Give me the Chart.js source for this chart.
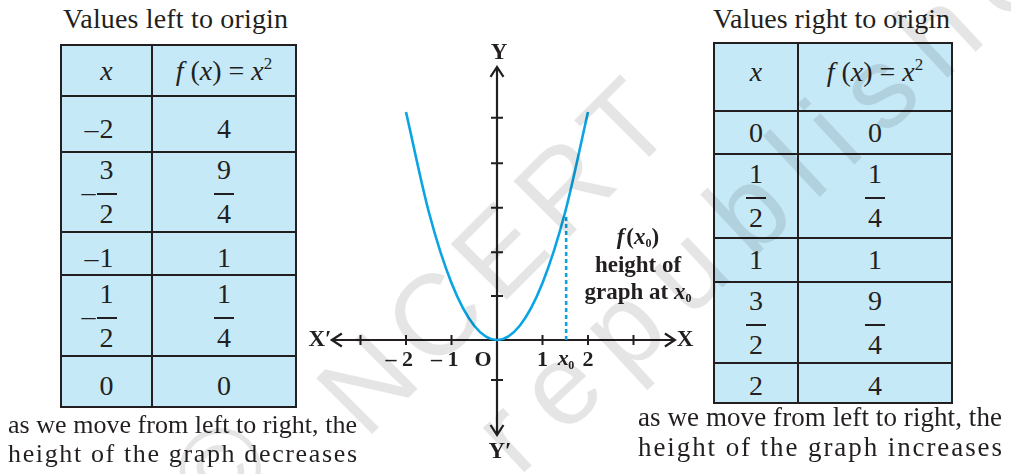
<!DOCTYPE html>
<html>
<head>
<meta charset="utf-8">
<script src="https://cdn.jsdelivr.net/npm/chart.js@4.4.1/dist/chart.umd.min.js"></script>
<style>
  body { margin: 0; width: 1011px; height: 474px; background: #fff; position: relative; overflow: hidden;
         font-family: "Liberation Serif", "DejaVu Serif", serif; color: #231f20; }
  .line { position: absolute; white-space: nowrap; }
  .tbl { position: absolute; background: #c6e9f8; }
  .rule { position: absolute; background: #231f20; }
  .cell { position: absolute; display: flex; align-items: center; justify-content: center; font-size: 28px; line-height: 28px; }
  .cell > span { white-space: nowrap; }
  .num { position: relative; display: inline-flex; align-items: center; }
  .neg { position: absolute; right: 100%; padding-right: 1px; }
  .frac { display: inline-flex; flex-direction: column; align-items: center; }
  .frac .bar { width: 20px; height: 2px; background: #231f20; margin: 9px 0 5px; }
  .frac span { line-height: 28px; height: 28px; }
  sup { font-size: 17px; vertical-align: 11px; line-height: 0; font-style: normal; }
  .note { position: absolute; left: 573px; top: 223px; width: 130px; text-align: center;
          font-weight: bold; font-size: 23px; line-height: 27.5px; }
  .note sub { font-size: 12px; vertical-align: -3px; line-height: 0; font-style: normal; }
  #chartBox { position: absolute; left: 300px; top: 30px; width: 400px; height: 444px; }
  .wm { position: absolute; white-space: nowrap; font-family: "Liberation Sans", sans-serif;
        color: rgba(0,0,0,0.1); line-height: 1; pointer-events: none; z-index: 10; }
</style>
</head>
<body>
<div id="chartBox"><canvas id="parabola" width="400" height="444"></canvas></div>
<div class="note"><i>f</i>&#8202;(<i>x</i><sub>0</sub>)<br>height of<br>graph at <i>x</i><sub>0</sub></div>
<script>
// 表格数据：原点左侧和右侧
const xLeft = [-2, -1.5, -1, -0.5, 0];
const fLeft = [4, 2.25, 1, 0.25, 0];
const xRight = [0, 0.5, 1, 1.5, 2];
const fRight = [0, 0.25, 1, 2.25, 4];

// 坐标轴刻度
const xTicks = [-3, -2, -1, 1, 2, 3];
const xTickLabels = ['– 2', '– 1', '1', '2'];
const xTickLabelValues = [-2, -1, 1, 2];
const yTicks = [-0.7, 0.77, 1.54, 2.32, 3.1, 3.9];

// x0 处的高度
const x0 = 1.52;
const fx0 = 2.2;

// 布局
const layout = {
	left:  { x: 61,  y: 45, w: 235, split: 91, rows: [0, 51, 107, 187, 230, 311, 362], dy: [0, 5, 0, 4, 0, 4] },
	right: { x: 714, y: 43, w: 238, split: 84, rows: [0, 68, 111, 195, 239, 320, 360], dy: [-5, 0, 0, 0, 0, 3] }
};

// 格式化数值（整数或分数）
function fmt(v) {
	const sign = v < 0 ? '<span class="neg">–</span>' : '';
	const a = Math.abs(v);
	if (Number.isInteger(a)) return '<span class="num">' + sign + a + '</span>';
	let den = 2;
	while (!Number.isInteger(a * den)) den *= 2;
	return '<span class="num">' + sign + '<span class="frac"><span>' + (a * den) + '</span><span class="bar"></span><span>' + den + '</span></span></span>';
}

// 生成表格
function buildTable(cfg, xs, fs) {
	const h = cfg.rows[cfg.rows.length - 1];
	const t = document.createElement('div');
	t.className = 'tbl';
	t.style.cssText = `left:${cfg.x}px;top:${cfg.y}px;width:${cfg.w}px;height:${h}px;`;
	const cells = [['<span><i>x</i></span>', '<span><i>f</i>&nbsp;(<i>x</i>) = <i>x</i><sup>2</sup></span>']];
	xs.forEach((x, i) => cells.push([fmt(x), fmt(fs[i])]));
	cells.forEach((row, r) => {
		const top = cfg.rows[r], hh = cfg.rows[r + 1] - top;
		row.forEach((html, c) => {
			const d = document.createElement('div');
			d.className = 'cell';
			const l = c === 0 ? 0 : cfg.split, w = c === 0 ? cfg.split : cfg.w - cfg.split;
			d.style.cssText = `left:${l}px;top:${top + cfg.dy[r]}px;width:${w}px;height:${hh}px;`;
			d.innerHTML = html;
			t.appendChild(d);
		});
	});
	// 表格线
	const lw = 2.6;
	cfg.rows.forEach(y => {
		const r = document.createElement('div');
		r.className = 'rule';
		r.style.cssText = `left:${-lw / 2}px;top:${y - lw / 2}px;width:${cfg.w + lw}px;height:${lw}px;`;
		t.appendChild(r);
	});
	[0, cfg.split, cfg.w].forEach(x => {
		const r = document.createElement('div');
		r.className = 'rule';
		r.style.cssText = `left:${x - lw / 2}px;top:${-lw / 2}px;width:${lw}px;height:${h + lw}px;`;
		t.appendChild(r);
	});
	document.body.appendChild(t);
}

// 文字行（按宽度调整字距）
function addLine(text, x, baseline, width, size) {
	const d = document.createElement('div');
	d.className = 'line';
	d.textContent = text;
	d.style.fontSize = size + 'px';
	d.style.lineHeight = size + 'px';
	d.style.left = x + 'px';
	d.style.top = (baseline - size * 0.8375) + 'px';
	document.body.appendChild(d);
	const natural = d.getBoundingClientRect().width;
	d.style.letterSpacing = ((width - natural) / (text.length - 1)) + 'px';
}

// 水印
function addWatermark(text, bx, by, size, angle, spacing) {
	const d = document.createElement('div');
	d.className = 'wm';
	d.textContent = text;
	d.style.fontSize = size + 'px';
	d.style.letterSpacing = spacing + 'px';
	const base = size * 0.8375;
	d.style.left = bx + 'px';
	d.style.top = (by - base) + 'px';
	d.style.transformOrigin = `0 ${base}px`;
	d.style.transform = `rotate(${angle}deg)`;
	document.body.appendChild(d);
}

buildTable(layout.left, xLeft, fLeft);
buildTable(layout.right, xRight, fRight);

addLine('Values left to origin', 63, 28, 225, 28);
addLine('Values right to origin', 713, 28, 237, 28);
addLine('as we move from left to right, the', 8, 434, 349, 26);
addLine('height of the graph decreases', 8, 463, 349, 26);
addLine('as we move from left to right, the', 638, 427, 364, 27);
addLine('height of the graph increases', 638, 457, 364, 27);

// 坐标轴插件
const axesPlugin = {
	id: 'axes',
	beforeDatasetsDraw(chart) {
		const { ctx, scales: { x, y } } = chart;
		const ox = x.getPixelForValue(0), oy = y.getPixelForValue(0);
		const ink = '#231f20';
		ctx.save();
		ctx.strokeStyle = ink;
		ctx.fillStyle = ink;
		ctx.lineWidth = 2.2;
		const xa = x.getPixelForValue(-3.63), xb = x.getPixelForValue(3.91);
		const ya = y.getPixelForValue(4.79), yb = y.getPixelForValue(-1.667);
		ctx.beginPath();
		ctx.moveTo(xa, oy); ctx.lineTo(xb, oy);
		ctx.moveTo(ox, ya); ctx.lineTo(ox, yb);
		// 箭头
		const al = 10, aw = 6.5;
		ctx.moveTo(xa + al, oy - aw); ctx.lineTo(xa, oy); ctx.lineTo(xa + al, oy + aw);
		ctx.moveTo(xb - al, oy - aw); ctx.lineTo(xb, oy); ctx.lineTo(xb - al, oy + aw);
		ctx.moveTo(ox - aw, ya + al); ctx.lineTo(ox, ya); ctx.lineTo(ox + aw, ya + al);
		ctx.moveTo(ox - aw, yb - al); ctx.lineTo(ox, yb); ctx.lineTo(ox + aw, yb - al);
		ctx.stroke();
		// 刻度
		ctx.lineWidth = 2;
		ctx.beginPath();
		xTicks.forEach(v => {
			const px = x.getPixelForValue(v);
			ctx.moveTo(px, oy - 5); ctx.lineTo(px, oy + 5);
		});
		yTicks.forEach(v => {
			const py = y.getPixelForValue(v);
			ctx.moveTo(ox - 6, py); ctx.lineTo(ox + 6, py);
		});
		ctx.stroke();
		// 标签
		ctx.font = 'bold 23px "Liberation Serif"';
		ctx.textBaseline = 'middle';
		ctx.textAlign = 'center';
		ctx.fillText('Y', ox + 2, 23);
		ctx.fillText('Y\u2032', ox + 3, 422);
		ctx.fillText('X\u2032', 20, oy);
		ctx.fillText('X', 385, oy);
		ctx.font = 'bold 22px "Liberation Serif"';
		ctx.fillText('O', ox - 14, oy + 20);
		xTickLabelValues.forEach((v, i) => {
			const px = x.getPixelForValue(v);
			if (v < 0) {
				ctx.textAlign = 'right';
				ctx.fillText(xTickLabels[i], px + 7, oy + 20);
			} else {
				ctx.textAlign = 'center';
				ctx.fillText(xTickLabels[i], px, oy + 20);
			}
		});
		// x0 标签
		const px0 = x.getPixelForValue(x0);
		ctx.textAlign = 'center';
		ctx.font = 'italic bold 22px "Liberation Serif"';
		ctx.fillText('x', px0 - 3, oy + 19);
		ctx.font = 'bold 12px "Liberation Serif"';
		ctx.fillText('0', px0 + 5, oy + 26);
		ctx.restore();
	}
};

// 曲线数据
const curve = xLeft.map((v, i) => ({ x: v, y: fLeft[i] }))
	.concat(xRight.slice(1).map((v, i) => ({ x: v, y: fRight[i + 1] })));

new Chart(document.getElementById('parabola'), {
	type: 'scatter',
	data: {
		datasets: [
			{
				data: curve,
				showLine: true,
				borderColor: '#0aa4e2',
				borderWidth: 2.6,
				pointRadius: 0,
				cubicInterpolationMode: 'monotone',
				clip: false
			},
			{
				data: [{ x: x0, y: 0 }, { x: x0, y: fx0 }],
				showLine: true,
				borderColor: '#0aa4e2',
				borderWidth: 2.6,
				borderDash: [4, 3],
				pointRadius: 0,
				clip: false
			}
		]
	},
	options: {
		responsive: false,
		animation: false,
		layout: { padding: 0 },
		plugins: { legend: { display: false }, tooltip: { enabled: false } },
		scales: {
			x: { type: 'linear', min: -197 / 45.5, max: 203 / 45.5, display: false },
			y: { type: 'linear', min: -134 / 57, max: 310 / 57, display: false }
		}
	},
	plugins: [axesPlugin]
});

addWatermark('©', 218, 526, 115, -45, 0);
addWatermark('NCERT', 365, 440, 115, -45, 12);
addWatermark('republished', 518, 477, 115, -43, 22);
</script>
</body>
</html>
